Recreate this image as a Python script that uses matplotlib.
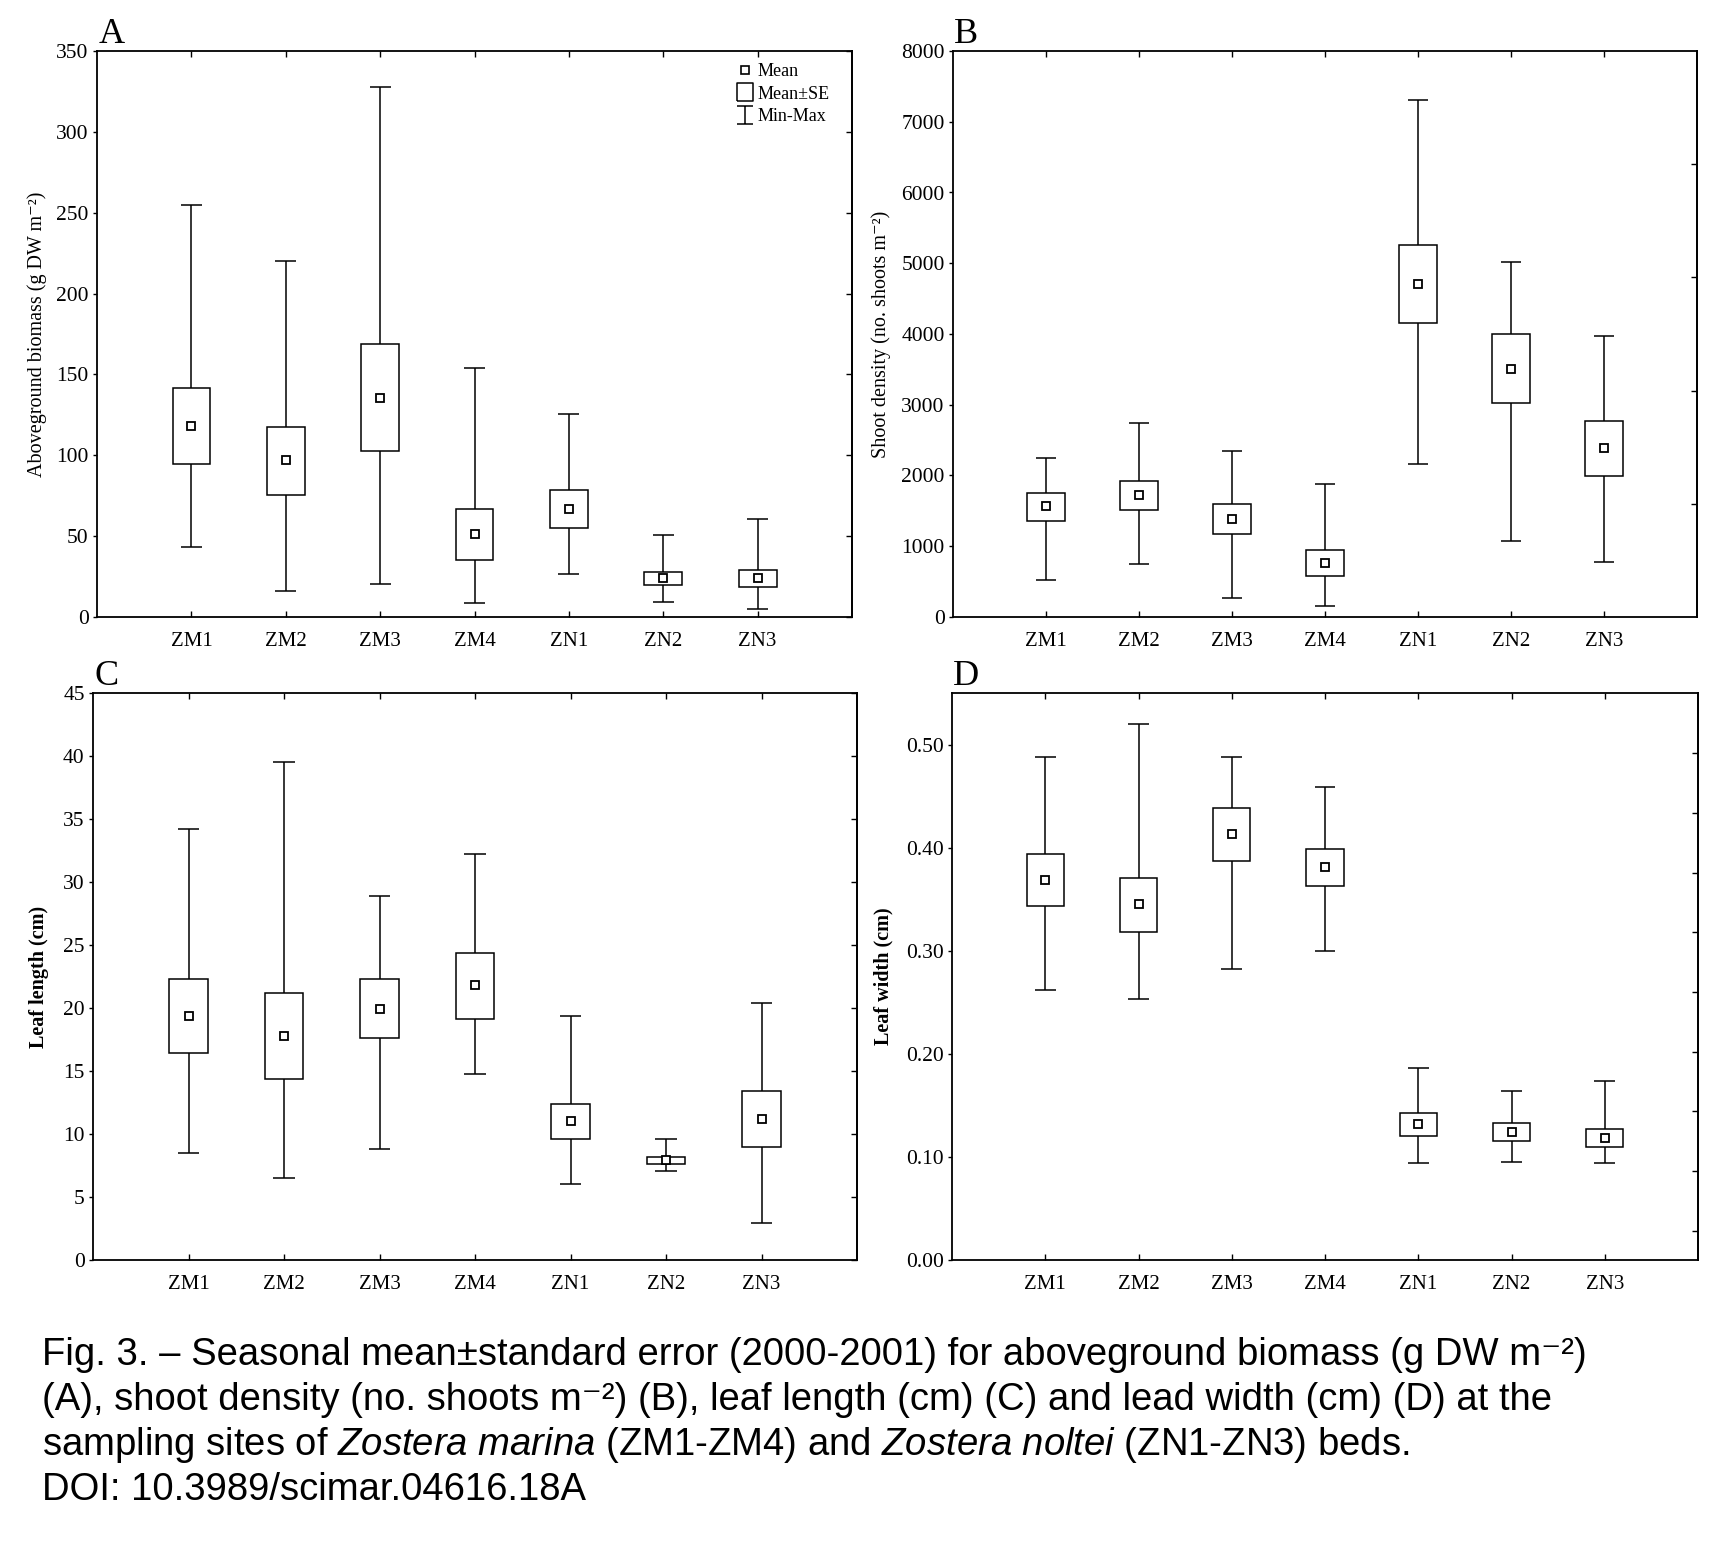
import numpy as np
import matplotlib.pyplot as plt
from matplotlib.path import Path
from matplotlib.lines import Line2D

plt.rcParams['font.family'] = ['Liberation Serif', 'DejaVu Serif']
plt.rcParams['mathtext.fontset'] = 'custom'
plt.rcParams['mathtext.rm'] = 'Liberation Sans'
plt.rcParams['mathtext.it'] = 'Liberation Sans:italic'

sites = ['ZM1', 'ZM2', 'ZM3', 'ZM4', 'ZN1', 'ZN2', 'ZN3']

# A - aboveground biomass (g DW m-2)
biomass_mean = [118, 97, 135.6, 51.2, 67, 23.9, 23.9]
biomass_se_lo = [94.9, 75.6, 102.4, 35.4, 55.2, 19.6, 18.8]
biomass_se_hi = [141.8, 117.7, 169, 67, 78.8, 27.9, 29]
biomass_min = [43, 15.8, 20.4, 8.8, 26.8, 9.1, 5.1]
biomass_max = [255, 220, 327.8, 154, 125.7, 50.7, 60.6]

# B - shoot density (no. shoots m-2)
density_mean = [1562, 1727, 1390, 760, 4704, 3510, 2389]
density_se_lo = [1360, 1519, 1170, 582, 4153, 3026, 1997]
density_se_hi = [1752, 1917, 1599, 943, 5256, 3994, 2775]
density_min = [527, 747, 263, 153, 2168, 1072, 772]
density_max = [2254, 2744, 2346, 1874, 7308, 5017, 3969]

# C - leaf length (cm)
length_mean = [19.4, 17.8, 19.9, 21.8, 11.0, 7.9, 11.2]
length_se_lo = [16.4, 14.4, 17.6, 19.1, 9.6, 7.6, 9.0]
length_se_hi = [22.3, 21.2, 22.3, 24.4, 12.4, 8.2, 13.4]
length_min = [8.5, 6.5, 8.8, 14.8, 6.0, 7.1, 2.9]
length_max = [34.2, 39.5, 28.9, 32.2, 19.4, 9.6, 20.4]

# D - leaf width (cm)
width_mean = [0.369, 0.345, 0.413, 0.381, 0.1315, 0.124, 0.1187]
width_se_lo = [0.343, 0.318, 0.387, 0.363, 0.120, 0.1154, 0.110]
width_se_hi = [0.394, 0.371, 0.438, 0.399, 0.143, 0.1327, 0.127]
width_min = [0.2615, 0.253, 0.282, 0.2997, 0.0945, 0.0953, 0.0937]
width_max = [0.4875, 0.520, 0.4875, 0.4585, 0.186, 0.1637, 0.174]

W, H = 1732, 1541


def axes_rect(x0, x1, y0, y1):
    return [x0 / W, 1 - y1 / H, (x1 - x0) / W, (y1 - y0) / H]


def draw_panel(ax, mean, lo, hi, vmin, vmax):
    x = np.arange(1, len(sites) + 1)
    ax.vlines(x, vmin, vmax, color='black', lw=1.1, zorder=1)
    ax.hlines(vmin, x - 0.11, x + 0.11, color='black', lw=1.1, zorder=1)
    ax.hlines(vmax, x - 0.11, x + 0.11, color='black', lw=1.1, zorder=1)
    ax.bar(x, np.subtract(hi, lo), bottom=lo, width=0.4, color='white',
           edgecolor='black', lw=1.1, zorder=2)
    ax.plot(x, mean, ls='none', marker='s', ms=6.3, mfc='white', mec='black',
            mew=1.3, zorder=3)
    ax.set_xlim(0, 8)
    ax.set_xticks(x)
    ax.set_xticklabels(sites)
    ax.tick_params(axis='x', direction='in', top=True, bottom=True,
                   length=4, width=1, labelsize=15, pad=11)
    ax.tick_params(axis='y', direction='out', length=3, width=1,
                   labelsize=15.5, pad=3)
    for s in ax.spines.values():
        s.set_linewidth(1.3)


def finish(ax, ylim, yticks, fmt, right_ticks, ylabel, lab_x, letter, bold):
    ax.set_ylim(*ylim)
    ax.set_yticks(yticks)
    ax.set_yticklabels([fmt % v for v in yticks])
    sec = ax.secondary_yaxis('right')
    sec.set_yticks(right_ticks)
    sec.tick_params(direction='in', length=4, width=1, labelright=False)
    sec.spines['right'].set_linewidth(1.3)
    ax.set_ylabel(ylabel, fontsize=14.5,
                  fontweight='bold' if bold else 'normal')
    ax.yaxis.set_label_coords(lab_x, 0.5)
    ax.annotate(letter, xy=(0, 1), xycoords='axes fraction',
                xytext=(1, 6), textcoords='offset points',
                fontsize=26, va='baseline', ha='left')


fig = plt.figure(figsize=(W / 100, H / 100), dpi=100)
axA = fig.add_axes(axes_rect(97, 852, 51, 617))
axB = fig.add_axes(axes_rect(953, 1697, 51, 617))
axC = fig.add_axes(axes_rect(93, 857, 693, 1260))
axD = fig.add_axes(axes_rect(952, 1698, 693, 1260))

draw_panel(axA, biomass_mean, biomass_se_lo, biomass_se_hi, biomass_min, biomass_max)
finish(axA, (0, 350), np.arange(0, 351, 50), '%d', np.arange(0, 351, 50),
       'Aboveground biomass (g DW m⁻²)', -0.066, 'A', False)

draw_panel(axB, density_mean, density_se_lo, density_se_hi, density_min, density_max)
finish(axB, (0, 8000), np.arange(0, 8001, 1000), '%d', np.arange(1600, 8000, 1600),
       'Shoot density (no. shoots m⁻²)', -0.083, 'B', False)

draw_panel(axC, length_mean, length_se_lo, length_se_hi, length_min, length_max)
finish(axC, (0, 45), np.arange(0, 46, 5), '%d', np.arange(0, 46, 5),
       'Leaf length (cm)', -0.0575, 'C', True)

draw_panel(axD, width_mean, width_se_lo, width_se_hi, width_min, width_max)
finish(axD, (0, 0.55), np.arange(0, 0.51, 0.1), '%.2f', np.linspace(0.0286, 0.4916, 9),
       'Leaf width (cm)', -0.079, 'D', True)

# legend in panel A
box_mark = [(-0.42, -0.5), (0.42, -0.5), (0.42, 0.5), (-0.42, 0.5), (-0.42, -0.5)]
whisk_mark = Path([(-0.42, -0.5), (0.42, -0.5), (0, -0.5), (0, 0.5), (-0.42, 0.5), (0.42, 0.5)],
                  [Path.MOVETO, Path.LINETO, Path.MOVETO, Path.LINETO, Path.MOVETO, Path.LINETO])
handles = [
    Line2D([], [], ls='none', marker='s', ms=5.5, mfc='white', mec='black', mew=1.2),
    Line2D([], [], ls='none', marker=box_mark, ms=13, mfc='white', mec='black', mew=1.1),
    Line2D([], [], ls='none', marker=whisk_mark, ms=13, mfc='none', mec='black', mew=1.1),
]
axA.legend(handles, ['Mean', 'Mean±SE', 'Min-Max'], loc='upper right',
           bbox_to_anchor=(0.975, 0.985), frameon=False, fontsize=13,
           handlelength=0.8, handletextpad=0.3, labelspacing=0.3,
           borderaxespad=0, borderpad=0.2)

# caption
cap_font = ['Liberation Sans', 'DejaVu Sans']
cap_lines = [
    'Fig. 3. – Seasonal mean±standard error (2000-2001) for aboveground biomass (g DW m⁻²)',
    '(A), shoot density (no. shoots m⁻²) (B), leaf length (cm) (C) and lead width (cm) (D) at the',
    r'sampling sites of $\mathit{Zostera\ marina}$ (ZM1-ZM4) and $\mathit{Zostera\ noltei}$ (ZN1-ZN3) beds.',
    'DOI: 10.3989/scimar.04616.18A',
]
for i, line in enumerate(cap_lines):
    fig.text(42 / W, 1 - (1365 + 45 * i) / H, line, family=cap_font,
             fontsize=27.5, va='baseline', ha='left')

fig.savefig('out.png', dpi=100, facecolor='white')
